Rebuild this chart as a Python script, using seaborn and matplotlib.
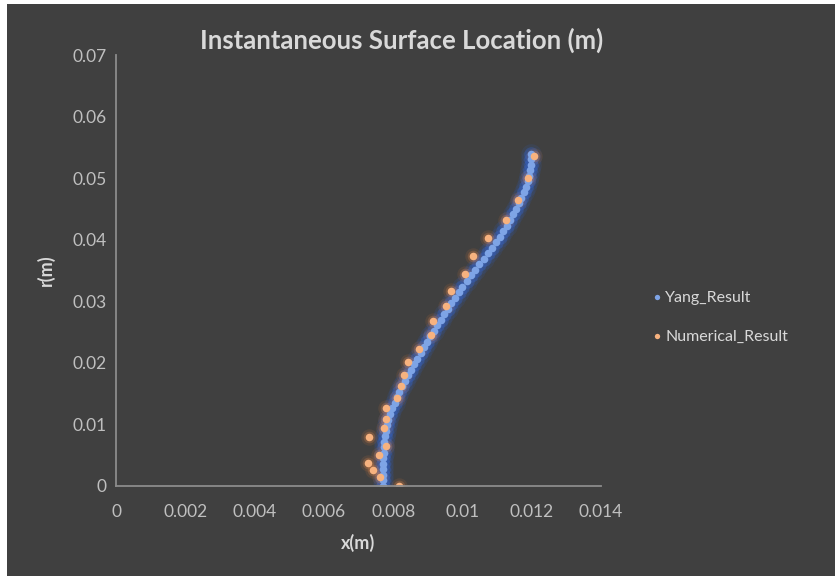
import matplotlib
matplotlib.use("Agg")
import matplotlib.pyplot as plt
import matplotlib.patches as mpatches
import seaborn as sns
import pandas as pd

# Yang analytical surface profile
yang_x = [0.00770, 0.00770, 0.00770, 0.00771, 0.00771, 0.00772, 0.00773, 0.00774,
          0.00775, 0.00777, 0.00779, 0.00782, 0.00786, 0.00791, 0.00797, 0.00804,
          0.00811, 0.00818, 0.00826, 0.00834, 0.00843, 0.00852, 0.00861, 0.00870,
          0.00879, 0.00888, 0.00898, 0.00907, 0.00917, 0.00927, 0.00937, 0.00947,
          0.00957, 0.00967, 0.00978, 0.00989, 0.01000, 0.01012, 0.01024, 0.01036,
          0.01049, 0.01061, 0.01073, 0.01085, 0.01097, 0.01108, 0.01118, 0.01128,
          0.01138, 0.01147, 0.01155, 0.01163, 0.01170, 0.01177, 0.01183, 0.01188,
          0.01192, 0.01195, 0.01197, 0.01198, 0.01198]
yang_r = [0.0000, 0.0009, 0.0018, 0.0027, 0.0036, 0.0045, 0.0054, 0.0063,
          0.0072, 0.0081, 0.0090, 0.0099, 0.0108, 0.0117, 0.0126, 0.0135,
          0.0144, 0.0153, 0.0162, 0.0171, 0.0180, 0.0189, 0.0198, 0.0207,
          0.0216, 0.0225, 0.0234, 0.0243, 0.0252, 0.0261, 0.0270, 0.0279,
          0.0288, 0.0297, 0.0306, 0.0315, 0.0324, 0.0333, 0.0342, 0.0351,
          0.0360, 0.0369, 0.0378, 0.0387, 0.0396, 0.0405, 0.0414, 0.0423,
          0.0432, 0.0441, 0.0450, 0.0459, 0.0468, 0.0477, 0.0486, 0.0495,
          0.0504, 0.0513, 0.0522, 0.0531, 0.0540]

# Numerical simulation surface points
num_x = [0.00818, 0.00762, 0.00743, 0.00727, 0.00759, 0.00780, 0.00730, 0.00775,
         0.00779, 0.00779, 0.00810, 0.00822, 0.00831, 0.00844, 0.00876, 0.00908,
         0.00916, 0.00952, 0.00966, 0.01008, 0.01030, 0.01074, 0.01125, 0.01160,
         0.01188, 0.01207]
num_r = [0.0000, 0.0014, 0.0026, 0.0038, 0.0051, 0.0065, 0.0080, 0.0094,
         0.0109, 0.0127, 0.0143, 0.0163, 0.0181, 0.0202, 0.0222, 0.0245,
         0.0268, 0.0293, 0.0317, 0.0344, 0.0373, 0.0403, 0.0432, 0.0465,
         0.0500, 0.0536]

x_ticks = [0, 0.002, 0.004, 0.006, 0.008, 0.01, 0.012, 0.014]
r_ticks = [0, 0.01, 0.02, 0.03, 0.04, 0.05, 0.06, 0.07]
series_names = ["Yang_Result", "Numerical_Result"]

yang = pd.DataFrame({"x": yang_x, "r": yang_r})
num = pd.DataFrame({"x": num_x, "r": num_r})

BG = "#404040"
TXT = "#d9d9d9"
TICK = "#bfbfbf"
AXIS = "#8c8c8c"

sns.set_theme(style="dark")
plt.rcParams["font.family"] = ["Lato", "DejaVu Sans"]

fig = plt.figure(figsize=(8.35, 5.76), dpi=100, facecolor="white")
# dark chart panel behind everything
fig.patches.append(mpatches.Rectangle((7 / 835, 0), 1 - 7 / 835, 1 - 4 / 576,
                                      transform=fig.transFigure, facecolor=BG,
                                      edgecolor="none", zorder=-10))

ax = fig.add_axes([116 / 835, 90 / 576, 485 / 835, 431 / 576])
ax.set_facecolor(BG)

# soft glow layers
sns.scatterplot(data=yang, x="x", y="r", ax=ax, s=220, color="#2f62d0",
                alpha=0.12, linewidth=0, legend=False)
sns.scatterplot(data=yang, x="x", y="r", ax=ax, s=110, color="#3568d8",
                alpha=0.30, linewidth=0, legend=False)
sns.scatterplot(data=num, x="x", y="r", ax=ax, s=140, color="#e07b39",
                alpha=0.12, linewidth=0, legend=False)
sns.scatterplot(data=num, x="x", y="r", ax=ax, s=70, color="#e8884a",
                alpha=0.25, linewidth=0, legend=False)
# marker cores
sns.scatterplot(data=yang, x="x", y="r", ax=ax, s=30, color="#7ea4e6",
                linewidth=0, label=series_names[0])
sns.scatterplot(data=num, x="x", y="r", ax=ax, s=30, color="#f7b27f",
                linewidth=0, label=series_names[1])

ax.set_xlim(0, 0.014)
ax.set_ylim(0, 0.07)
ax.set_xticks(x_ticks)
ax.set_yticks(r_ticks)
ax.set_xticklabels([f"{v:g}" for v in x_ticks])
ax.set_yticklabels([f"{v:g}" for v in r_ticks])
ax.tick_params(axis="both", colors=TICK, labelsize=12.5, length=0)
ax.tick_params(axis="x", pad=13)
ax.tick_params(axis="y", pad=7)
ax.grid(False)

for side in ["top", "right"]:
    ax.spines[side].set_visible(False)
for side in ["left", "bottom"]:
    ax.spines[side].set_color(AXIS)
    ax.spines[side].set_linewidth(1.3)

ax.set_xlabel("x(m)", color=TXT, fontsize=13, fontweight="bold", labelpad=10)
ax.set_ylabel("r(m)", color=TXT, fontsize=13, fontweight="bold", labelpad=12)

fig.text(402 / 835, 1 - 40 / 576, "Instantaneous Surface Location (m)",
         ha="center", va="center", color=TXT, fontsize=18.5, fontweight="bold")

leg = ax.legend(loc="center left", bbox_to_anchor=(635 / 835, 1 - 317 / 576),
                bbox_transform=fig.transFigure, frameon=False, fontsize=11.5,
                labelcolor=TXT, handletextpad=0.0, labelspacing=1.55,
                markerscale=0.7, handlelength=1.0)

fig.savefig("out.png", dpi=100, facecolor=fig.get_facecolor())
